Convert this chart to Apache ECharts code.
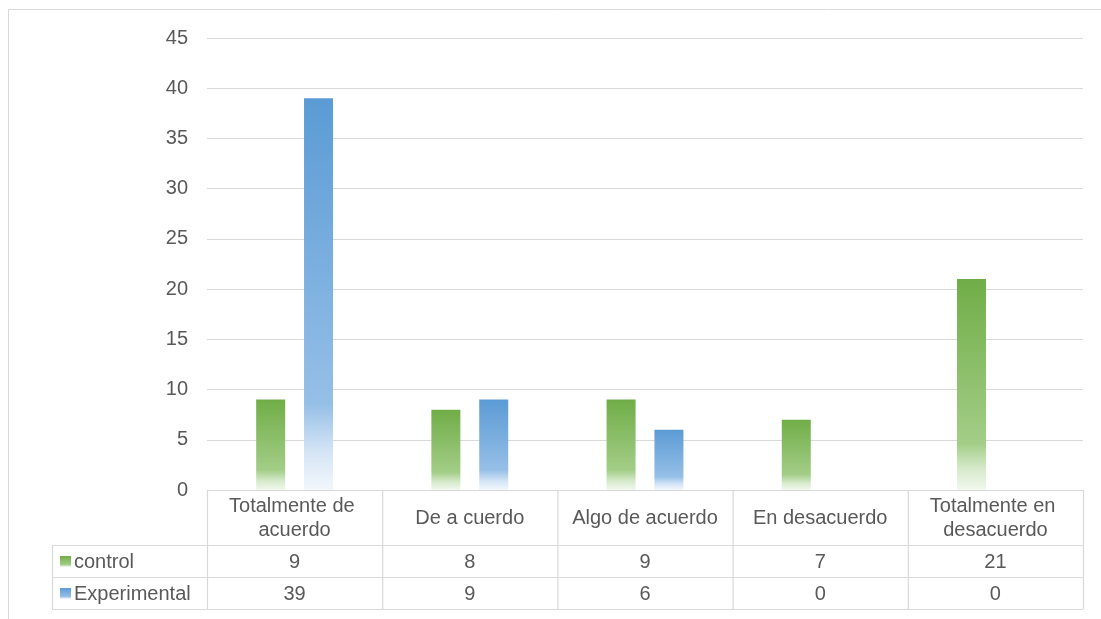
<!DOCTYPE html>
<html>
<head>
<meta charset="utf-8">
<script src="https://cdn.jsdelivr.net/npm/echarts@6/dist/echarts.min.js"></script>
<style>
html,body{margin:0;padding:0;background:#fff;}
#c{width:1101px;height:619px;}
</style>
</head>
<body>
<div id="c"></div>
<script>
const categories = ['Totalmente de acuerdo', 'De a cuerdo', 'Algo de acuerdo', 'En desacuerdo', 'Totalmente en desacuerdo'];
const controlValues = [9, 8, 9, 7, 21];
const experimentalValues = [39, 9, 6, 0, 0];
const seriesNames = ['control', 'Experimental'];
const yTicks = { min: 0, max: 45, interval: 5 };

const W = 1101, H = 619;
const gridLeft = 207, gridRight = 1083, gridTop = 38, gridBottom = 490;
const rowH1 = 545, rowH2 = 577, rowH3 = 609, tableLeft = 52;
const FONT = '"Liberation Sans", Arial, sans-serif';
const FS = 20;
const TXT = '#595959';
const LINE = '#d9d9d9';

function grad(c0, c1, c2, c3) {
  return new echarts.graphic.LinearGradient(0, 0, 0, 1, [
    { offset: 0, color: c0 },
    { offset: 0.78, color: c1 },
    { offset: 0.9, color: c2 },
    { offset: 1, color: c3 }
  ]);
}
const greenGrad = () => grad('#70AD47', '#a3cd87', '#d6eacb', '#f2f8ee');
const blueGrad = () => grad('#5B9BD5', '#96bfe7', '#d3e4f5', '#f3f7fc');

const chart = echarts.init(document.getElementById('c'), null, { renderer: 'canvas' });

const graphics = [];
graphics.push({ type: 'rect', shape: { x: 8.5, y: 9.5, width: 1200, height: 700 }, style: { fill: 'none', stroke: LINE, lineWidth: 1 }, silent: true });

const nCat = categories.length;
const colW = (gridRight - gridLeft) / nCat;
function hline(x1, x2, y) {
  graphics.push({ type: 'line', shape: { x1: x1, y1: y + 0.5, x2: x2, y2: y + 0.5 }, style: { stroke: LINE, lineWidth: 1.2 }, silent: true });
}
function vline(x, y1, y2) {
  graphics.push({ type: 'line', shape: { x1: x + 0.5, y1: y1, x2: x + 0.5, y2: y2 }, style: { stroke: LINE, lineWidth: 1.2 }, silent: true });
}
hline(gridLeft, gridRight, gridBottom);
hline(tableLeft, gridRight, rowH1);
hline(tableLeft, gridRight, rowH2);
hline(tableLeft, gridRight, rowH3);
vline(tableLeft, rowH1, rowH3 + 0.5);
for (let i = 0; i <= nCat; i++) {
  vline(gridLeft + colW * i, gridBottom, rowH3 + 0.5);
}
const rows = [controlValues, experimentalValues];
const rowYs = [(rowH1 + rowH2) / 2 + 1, (rowH2 + rowH3) / 2 + 1];
const keyGrads = [greenGrad, blueGrad];
rows.forEach((vals, r) => {
  graphics.push({ type: 'rect', shape: { x: 60, y: rowYs[r] - 6, width: 11, height: 11 }, style: { fill: keyGrads[r]() }, silent: true });
  graphics.push({ type: 'text', x: 74, y: rowYs[r], style: { text: seriesNames[r], font: FS + 'px ' + FONT, fill: TXT, textAlign: 'left', textVerticalAlign: 'middle' }, silent: true });
  vals.forEach((v, i) => {
    graphics.push({ type: 'text', x: gridLeft + colW * (i + 0.5), y: rowYs[r], style: { text: String(v), font: FS + 'px ' + FONT, fill: TXT, textAlign: 'center', textVerticalAlign: 'middle' }, silent: true });
  });
});

chart.setOption({
  backgroundColor: '#ffffff',
  animation: false,
  textStyle: { fontFamily: FONT },
  grid: { left: gridLeft, right: W - gridRight, top: gridTop, bottom: H - gridBottom, containLabel: false },
  xAxis: {
    type: 'category',
    data: categories,
    axisLine: { show: false },
    axisTick: { show: false },
    axisLabel: {
      interval: 0,
      color: TXT,
      fontSize: FS,
      fontFamily: FONT,
      width: 165,
      overflow: 'break',
      lineHeight: 24,
      align: 'center',
      verticalAlign: 'middle',
      margin: 28
    }
  },
  yAxis: {
    type: 'value',
    min: yTicks.min,
    max: yTicks.max,
    interval: yTicks.interval,
    axisLine: { show: false },
    axisTick: { show: false },
    axisLabel: { color: TXT, fontSize: FS, fontFamily: FONT, margin: 19 },
    splitLine: { lineStyle: { color: LINE, width: 1 } }
  },
  series: [
    { name: seriesNames[0], type: 'bar', data: controlValues, barWidth: 29, barGap: '65%', itemStyle: { color: greenGrad() } },
    { name: seriesNames[1], type: 'bar', data: experimentalValues, barWidth: 29, barGap: '65%', itemStyle: { color: blueGrad() } }
  ],
  graphic: graphics
});
</script>
</body>
</html>
